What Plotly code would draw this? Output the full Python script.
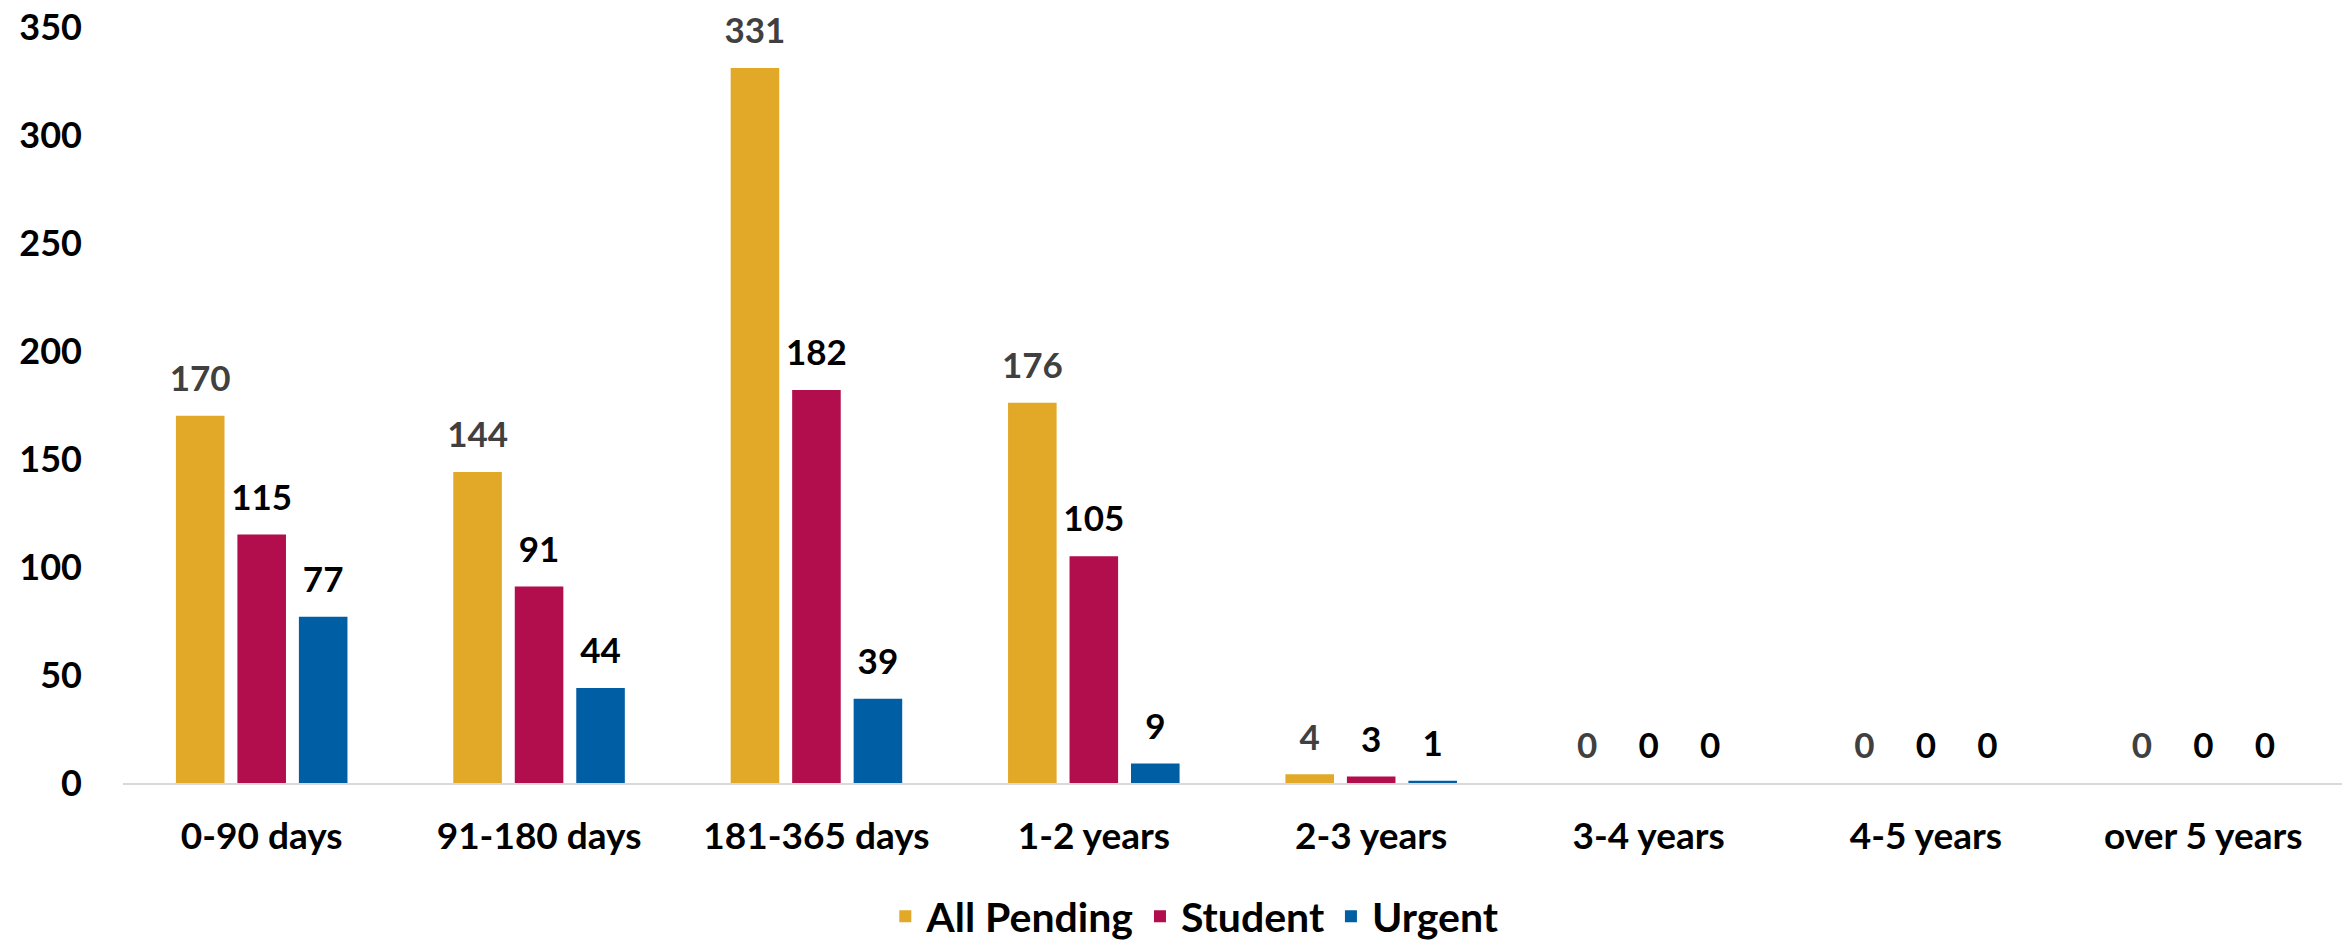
import plotly.graph_objects as go

categories = ["0-90 days", "91-180 days", "181-365 days", "1-2 years", "2-3 years",
              "3-4 years", "4-5 years", "over 5 years"]
all_pending = [170, 144, 331, 176, 4, 0, 0, 0]
student = [115, 91, 182, 105, 3, 0, 0, 0]
urgent = [77, 44, 39, 9, 1, 0, 0, 0]

series = [
    ("All Pending", all_pending, "#E2A827", "#404040"),
    ("Student", student, "#B20D4C", "#000000"),
    ("Urgent", urgent, "#005EA5", "#000000"),
]

FONT = "Lato"
BARGAP = 0.335
fig = go.Figure()
for i, (name, vals, color, tcolor) in enumerate(series):
    fig.add_trace(go.Bar(
        x=categories, y=vals, name=name, offsetgroup=str(i),
        marker=dict(color=color, line=dict(width=0)),
        hoverinfo="x+y+name",
    ))
for i, (name, vals, color, tcolor) in enumerate(series):
    fig.add_trace(go.Scatter(
        x=categories, y=vals, name=name, offsetgroup=str(i),
        mode="markers+text", showlegend=False, hoverinfo="skip",
        marker=dict(size=24, color="rgba(0,0,0,0)"),
        text=[str(v) for v in vals], textposition="top center",
        textfont=dict(family=FONT, size=35, color=tcolor, weight="bold"),
        cliponaxis=False,
    ))

fig.update_layout(
    width=2351, height=950,
    paper_bgcolor="white", plot_bgcolor="white",
    margin=dict(l=123, r=9, t=27, b=167, autoexpand=False),
    barmode="group", bargap=BARGAP, bargroupgap=0.21,
    scattermode="group", scattergap=BARGAP,
    font=dict(family=FONT, size=35, color="#000000", weight="bold"),
    showlegend=True,
    legend=dict(orientation="h", xref="container", yref="container",
                x=0.508, xanchor="center", y=-0.007, yanchor="bottom",
                font=dict(family=FONT, size=41, color="#000000", weight="bold"),
                itemwidth=32, traceorder="normal"),
    xaxis=dict(showgrid=False, showline=True, linecolor="#D9D9D9", linewidth=2,
               ticks="", tickfont=dict(family=FONT, size=37, color="#000000", weight="bold"),
               ticklabelstandoff=20),
    yaxis=dict(range=[0, 350], dtick=50, showgrid=False, zeroline=False, showline=False,
               ticks="", tickfont=dict(family=FONT, size=36, color="#000000", weight="bold"),
               ticklabelstandoff=40),
)

fig.write_html("out.html", config={"displayModeBar": False},
               post_script="document.body.style.margin='0';document.body.style.overflow='hidden';")
